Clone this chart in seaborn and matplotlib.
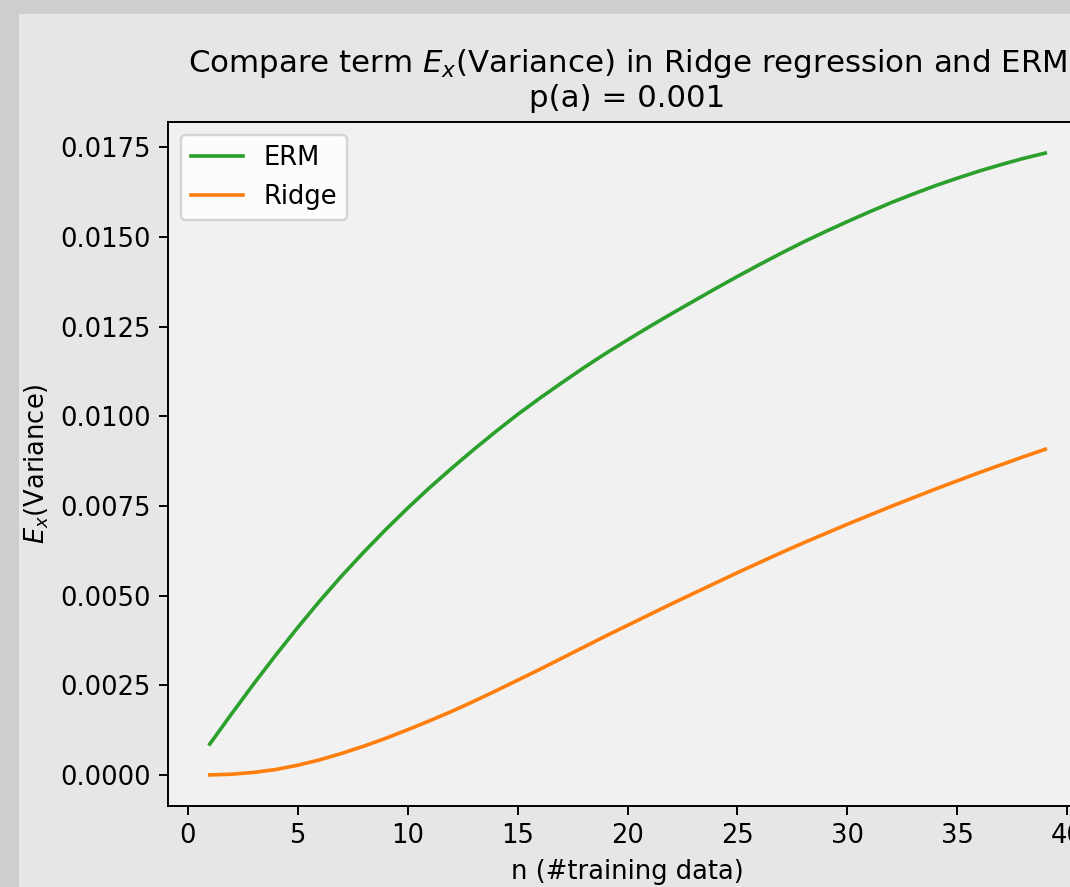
import numpy as np
import pandas as pd
import matplotlib
matplotlib.use("Agg")
import matplotlib.pyplot as plt
from matplotlib.patches import Rectangle
import seaborn as sns

# ---- data ----
n_values = list(range(1, 40))
erm_values = [0.00086, 0.00171, 0.00254, 0.00334, 0.00411, 0.00485, 0.00555, 0.00621,
              0.00684, 0.00744, 0.00801, 0.00855, 0.00907, 0.00957, 0.01005, 0.01050,
              0.01093, 0.01135, 0.01175, 0.01213, 0.01250, 0.01286, 0.01321, 0.01356,
              0.01390, 0.01423, 0.01455, 0.01486, 0.01515, 0.01543, 0.01570, 0.01596,
              0.01620, 0.01643, 0.01664, 0.01684, 0.01702, 0.01719, 0.01734]
ridge_values = [0.00000, 0.00002, 0.00007, 0.00015, 0.00027, 0.00042, 0.00060, 0.00080,
                0.00102, 0.00126, 0.00151, 0.00177, 0.00205, 0.00234, 0.00264, 0.00294,
                0.00325, 0.00356, 0.00387, 0.00417, 0.00447, 0.00477, 0.00506, 0.00535,
                0.00564, 0.00592, 0.00620, 0.00647, 0.00673, 0.00699, 0.00724, 0.00749,
                0.00773, 0.00797, 0.00820, 0.00843, 0.00865, 0.00887, 0.00908]
series_names = ["ERM", "Ridge"]
series_colors = ["#2ca02c", "#ff7f0e"]
title_text = "Compare term $E_x$(Variance) in Ridge regression and ERM\np(a) = 0.001"
xlabel_text = "n (#training data)"
ylabel_text = "$E_x$(Variance)"
x_ticks = [0, 5, 10, 15, 20, 25, 30, 35, 40]
y_ticks = [0.0, 0.0025, 0.005, 0.0075, 0.01, 0.0125, 0.015, 0.0175]

df = pd.DataFrame({
    "n": n_values * 2,
    "value": erm_values + ridge_values,
    "series": ["ERM"] * len(n_values) + ["Ridge"] * len(n_values),
})

plt.rcParams["font.size"] = 10.6

W, H, DPI = 1070, 887, 175
fig = plt.figure(figsize=(W / DPI, H / DPI), dpi=DPI, facecolor="#e6e6e6")

# screenshot border strips
fig.patches.append(Rectangle((0, 0), 19 / W, 1, transform=fig.transFigure,
                             facecolor="#cecece", edgecolor="none", zorder=-5))
fig.patches.append(Rectangle((0, 1 - 14 / H), 1, 14 / H, transform=fig.transFigure,
                             facecolor="#cecece", edgecolor="none", zorder=-5))

left, right, top, bottom = 168, 1087, 122, 806
ax = fig.add_axes([left / W, 1 - bottom / H, (right - left) / W, (bottom - top) / H])
ax.set_facecolor("#f1f1f1")

for name, color in zip(series_names, series_colors):
    sub = df[df["series"] == name]
    sns.lineplot(data=sub, x="n", y="value", ax=ax, color=color, label=name, linewidth=1.5)

ax.set_xticks(x_ticks)
ax.set_yticks(y_ticks)
ax.yaxis.set_major_formatter(matplotlib.ticker.FormatStrFormatter("%.4f"))
ax.set_xlabel(xlabel_text)
ax.set_ylabel(ylabel_text)
ax.set_title(title_text)
ax.legend(loc="upper left")

fig.savefig("out.png", dpi=DPI, facecolor=fig.get_facecolor())
